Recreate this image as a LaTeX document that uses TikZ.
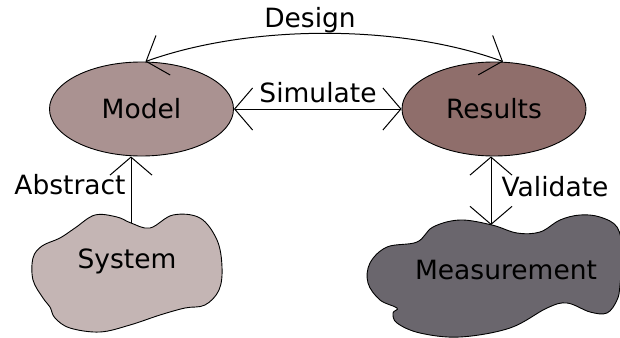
\documentclass[tikz,border=0pt]{standalone}
\usepackage{fontspec}
\setmainfont{DejaVu Sans}
\usetikzlibrary{arrows.meta,shapes.geometric}
\definecolor{modelc}{HTML}{AA9291}
\definecolor{resultc}{HTML}{8F6E6B}
\definecolor{systemc}{HTML}{C4B5B4}
\definecolor{measc}{HTML}{6A666D}
\begin{document}
\begin{tikzpicture}[x=1pt,y=-1pt,
  font=\fontsize{26.5}{30}\selectfont,
  barb/.tip={Straight Barb[length=18pt,width=42pt]},
  conn/.style={draw=black,line width=1pt},
  blob/.style={draw=black,line width=0.9pt},
  oval/.style={ellipse,draw=black,line width=0.9pt,inner sep=0pt,minimum width=184pt,minimum height=94pt},
  lbl/.style={inner sep=0pt}]
\useasboundingbox (0,0) rectangle (620,337);
% clouds
\draw[blob,fill=systemc] plot[smooth cycle,tension=0.6] coordinates {
 (131,223) (150,228) (173,215) (200,218) (217,240) (222,267) (219,290)
 (205,305) (185,308) (160,315) (130,325) (100,332) (70,328) (55,318)
 (50,307) (43,298) (33,280) (33,258) (42,246) (60,238) (75,228) (95,215) (117,217)};
\draw[blob,fill=measc] plot[smooth cycle,tension=0.6] coordinates {
 (492,225) (517,233) (540,232) (560,220) (580,215) (600,217) (617,227)
 (622,250) (620,285) (617,300) (607,313) (590,312) (567,303) (547,308)
 (510,328) (460,337) (420,333) (397,323) (393,313) (397,308) (380,300)
 (368,283) (370,263) (387,247) (417,242) (433,227) (460,220)};
\coordinate (systop) at (131,223);
\coordinate (meastop) at (491,225);
\node[lbl] (system) at (127,261) {System};
\node[lbl] (meas) at (506,270) {Measurement};
% ellipses
\node[oval,fill=modelc] (model) at (141.5,109) {Model};
\node[oval,fill=resultc] (results) at (494,109) {Results};
% connectors
\draw[conn,{barb}-{barb}] (model.east) -- (results.west);
\draw[conn,{barb}-{barb}] ([xshift=4pt]model.north) .. controls (250,24) and (400,24) .. ([xshift=9pt]results.north);
\draw[conn,-{barb}] (systop) -- (systop |- model.south);
\draw[conn,{barb}-{barb}] (meastop |- results.south) -- (meastop);
% labels
\node[lbl] (design) at (310,20) {Design};
\node[lbl] (simulate) at (318,93) {Simulate};
\node[lbl] (abstract) at (70,185) {Abstract};
\node[lbl] (validate) at (555,187) {Validate};
\end{tikzpicture}
\end{document}
